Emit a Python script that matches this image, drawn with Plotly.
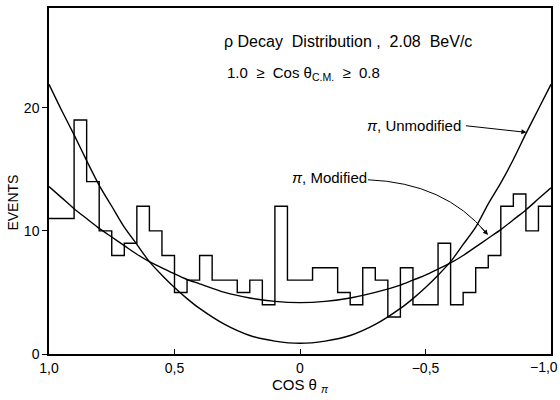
import plotly.graph_objects as go

# ---- data ----
bin_width = 0.05
hist_start = 1.0
events = [11, 11, 19, 14, 10, 8, 9, 12, 10, 8,
          5, 6, 8, 6, 6, 5, 6, 4, 12, 6,
          6, 7, 7, 5, 4, 7, 6, 3, 7, 4,
          4, 9, 4, 5, 7, 8, 12, 13, 10, 12]

curve_cos = [1.0, 0.95, 0.9, 0.85, 0.8, 0.75, 0.7, 0.65, 0.6, 0.55, 0.5, 0.45, 0.4, 0.3, 0.2, 0.1, 0.0,
             -0.1, -0.2, -0.3, -0.4, -0.45, -0.5, -0.55, -0.6, -0.65, -0.7, -0.75, -0.8, -0.85, -0.9, -0.95, -1.0]
unmodified = [21.9, 19.8, 17.8, 15.7, 13.7, 12.0, 10.3, 8.9, 7.5, 6.4, 5.4, 4.5, 3.7, 2.4, 1.5, 1.05, 0.87,
              1.05, 1.5, 2.4, 3.7, 4.5, 5.4, 6.4, 7.5, 8.9, 10.3, 12.2, 13.9, 15.8, 17.9, 19.9, 21.9]
modified = [13.6, 12.7, 11.8, 11.0, 10.2, 9.5, 8.8, 8.1, 7.5, 7.0, 6.5, 6.05, 5.7, 5.0, 4.55, 4.27, 4.17,
            4.27, 4.55, 5.0, 5.6, 6.0, 6.4, 6.9, 7.4, 8.0, 8.7, 9.4, 10.1, 10.9, 11.7, 12.6, 13.5]

x_tickvals = [1.0, 0.5, 0.0, -0.5, -1.0]
x_ticktext = ["1,0", "0,5", "0", "\u22120,5", "\u22121,0"]
y_tickvals = [0, 10, 20]

# ---- build figure ----
edges = [hist_start - bin_width * i for i in range(len(events) + 1)]
step_y = events + [events[-1]]

fig = go.Figure()
fig.add_trace(go.Scatter(x=edges, y=step_y, mode="lines", line=dict(shape="hv", color="black", width=1.4),
                         hoverinfo="skip", showlegend=False))
fig.add_trace(go.Scatter(x=curve_cos, y=unmodified, mode="lines",
                         line=dict(shape="spline", smoothing=0.8, color="black", width=1.4), showlegend=False))
fig.add_trace(go.Scatter(x=curve_cos, y=modified, mode="lines",
                         line=dict(shape="spline", smoothing=0.8, color="black", width=1.4), showlegend=False))

font = "Liberation Sans"
fig.add_annotation(x=0.31, y=25.4, xref="x", yref="y", xanchor="left", yanchor="middle", showarrow=False,
                   text="\u03c1 Decay  Distribution ,  2.08  BeV/c", font=dict(family=font, size=16, color="black"))
fig.add_annotation(x=0.30, y=22.8, xref="x", yref="y", xanchor="left", yanchor="middle", showarrow=False,
                   text="1.0  \u2265  Cos \u03b8<sub>C.M.</sub>  \u2265  0.8", font=dict(family=font, size=15, color="black"))
fig.add_annotation(x=-0.26, y=18.55, xref="x", yref="y", xanchor="left", yanchor="middle", showarrow=False,
                   text="<i>\u03c0</i>, Unmodified", font=dict(family=font, size=15, color="black"))
fig.add_annotation(x=0.04, y=14.35, xref="x", yref="y", xanchor="left", yanchor="middle", showarrow=False,
                   text="<i>\u03c0</i>, Modified", font=dict(family=font, size=15, color="black"))
fig.add_annotation(x=-0.0725, y=0.5, xref="paper", yref="paper", xanchor="center", yanchor="middle",
                   yshift=-22, showarrow=False, textangle=-90, text="EVENTS",
                   font=dict(family=font, size=14, color="black"))
# last x tick label, kept inside the page
fig.add_annotation(x=1.0, y=0, xref="paper", yref="paper", xanchor="right", yanchor="top",
                   xshift=9, yshift=-3, showarrow=False, text=x_ticktext[-1],
                   font=dict(family=font, size=14, color="black"))
# unmodified arrow
fig.add_annotation(x=-0.902, y=18.0, ax=-0.655, ay=18.55, xref="x", yref="y", axref="x", ayref="y",
                   text="", showarrow=True, arrowhead=2, arrowsize=1, arrowwidth=1, arrowcolor="black")
# modified curved arrow
fig.add_shape(type="path", xref="x", yref="y",
              path="M -0.271,14.15 Q -0.578,13.9 -0.743,9.8", line=dict(color="black", width=1))
fig.add_annotation(x=-0.749, y=9.67, xref="x", yref="y", ax=-8, ay=-9, text="", showarrow=True,
                   arrowhead=2, arrowsize=1, arrowwidth=1, arrowcolor="black")

fig.update_layout(
    width=560, height=400, margin=dict(l=49, r=9, t=8, b=46, autoexpand=False),
    plot_bgcolor="white", paper_bgcolor="white",
    font=dict(family=font, size=13, color="black"),
)
fig.update_xaxes(range=[1.0, -1.0], tickvals=x_tickvals, ticktext=x_ticktext[:-1] + [""], ticks="inside",
                 ticklen=5, tickcolor="black", showline=True, linecolor="black", linewidth=1.5, mirror=True,
                 showgrid=False, zeroline=False, tickfont=dict(size=14), automargin=False,
                 title=dict(text="COS \u03b8 <sub><i>\u03c0</i></sub>", font=dict(size=15), standoff=2))
fig.update_yaxes(range=[0, 28.1], tickvals=y_tickvals, ticks="outside", ticklen=5, tickcolor="black",
                 showline=True, linecolor="black", linewidth=1.5, mirror=True, showgrid=False, zeroline=False,
                 tickfont=dict(size=14), automargin=False)

fig.write_html("out.html")
